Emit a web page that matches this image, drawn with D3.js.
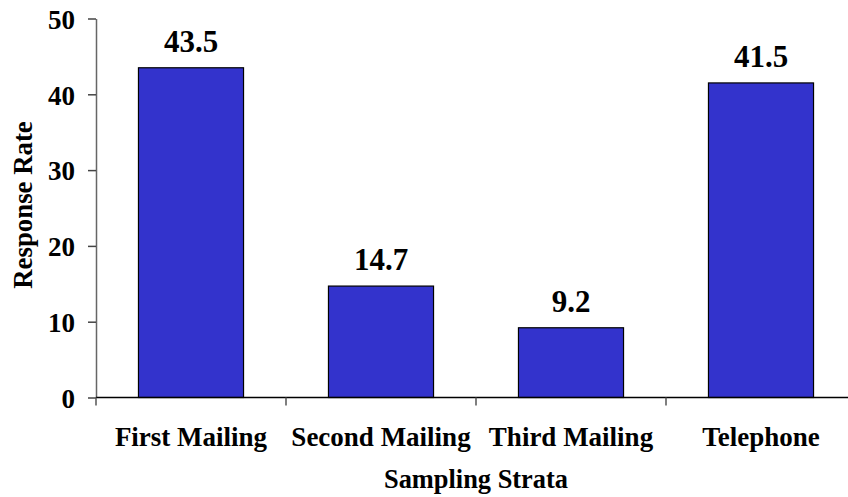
<!DOCTYPE html>
<html><head><meta charset="utf-8">
<script src="https://cdn.jsdelivr.net/npm/d3@7"></script>
</head><body style="margin:0;background:#fff"><svg id="c" width="848" height="497" font-family="Liberation Serif" font-weight="bold"></svg>
<script>
const categories = ["First Mailing","Second Mailing","Third Mailing","Telephone"];
const values = [43.5,14.7,9.2,41.5];
const yTicks = [0,10,20,30,40,50];
const yTitle = "Response Rate";
const xTitle = "Sampling Strata";

const FONT = "Liberation Serif";
const svg = d3.select("#c");
const x = d3.scaleBand().domain(categories).range([96,856]).paddingInner(0.447).paddingOuter(0.2235);
const y = d3.scaleLinear().domain([0,50]).range([397.5,18.5]);

function styleText(sel, size){
  return sel.attr("font-family",FONT).attr("font-weight","bold").attr("font-size",size).attr("fill","#000");
}

// bars
svg.selectAll("rect.bar").data(values).join("rect")
  .attr("x",(d,i)=>x(categories[i])).attr("width",x.bandwidth())
  .attr("y",d=>y(d)).attr("height",d=>y(0)-y(d))
  .attr("fill","#3333CC").attr("stroke","#000").attr("stroke-width",1.2);

// y axis
const ya = svg.append("g").attr("transform","translate(96,0)")
  .call(d3.axisLeft(y).tickValues(yTicks).tickSize(8).tickSizeOuter(0).tickPadding(13));
ya.attr("font-family",FONT).attr("font-size",27);
ya.select(".domain").attr("stroke","#666").attr("stroke-width",1.5);
ya.selectAll(".tick line").attr("stroke","#444").attr("stroke-width",1.5);
styleText(ya.selectAll(".tick text"),27).attr("dy","0.36em");

// x axis
const step = x.step();
const bounds = d3.range(categories.length+1).map(i=>96+i*step);
svg.append("line").attr("x1",96).attr("x2",848).attr("y1",y(0)).attr("y2",y(0)).attr("stroke","#000").attr("stroke-width",1.5);
svg.selectAll("line.xt").data(bounds).join("line").attr("class","xt")
  .attr("x1",d=>d).attr("x2",d=>d).attr("y1",y(0)).attr("y2",y(0)+8).attr("stroke","#555").attr("stroke-width",1.5);
styleText(svg.selectAll("text.xl").data(categories).join("text").attr("class","xl")
  .attr("x",d=>x(d)+x.bandwidth()/2).attr("y",445.5).attr("text-anchor","middle").text(d=>d),27);

// value labels
styleText(svg.selectAll("text.vl").data(values).join("text").attr("class","vl")
  .attr("x",(d,i)=>x(categories[i])+x.bandwidth()/2).attr("y",d=>y(d)-16)
  .attr("text-anchor","middle").text(d=>d.toFixed(1)),31);

// titles
styleText(svg.append("text").attr("x",476).attr("y",488).attr("text-anchor","middle").text(xTitle),26.4);
styleText(svg.append("text").attr("transform","translate(32,205) rotate(-90)").attr("text-anchor","middle").text(yTitle),26.8);
</script></body></html>
